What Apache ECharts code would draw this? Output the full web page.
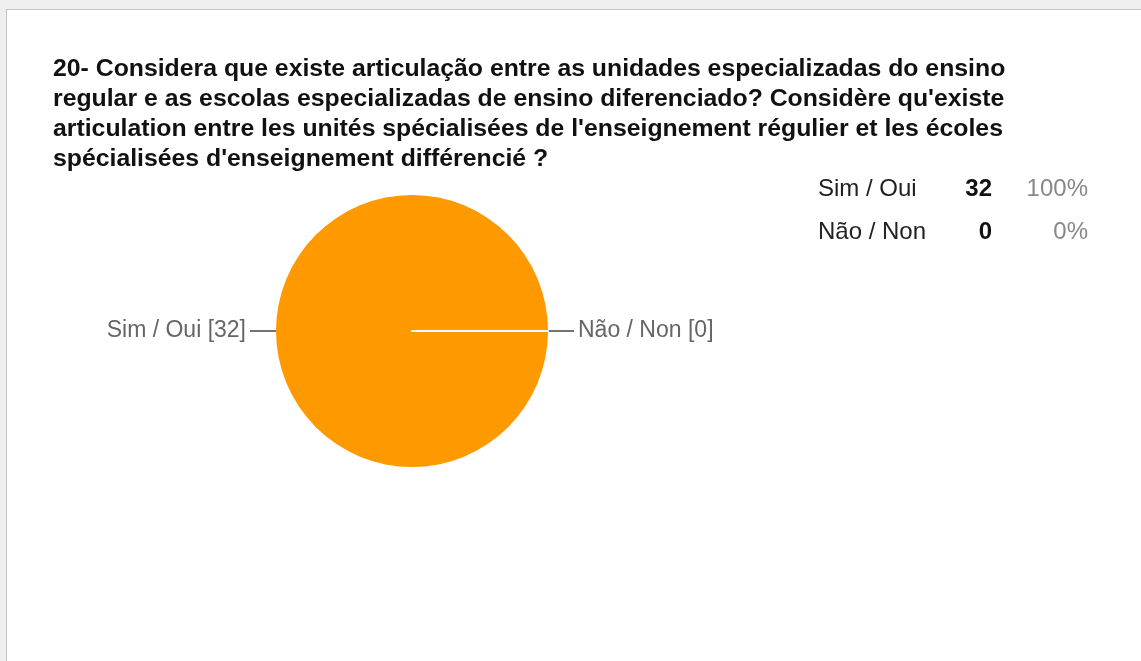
<!DOCTYPE html>
<html>
<head>
<meta charset="utf-8">
<script src="https://cdn.jsdelivr.net/npm/echarts@6/dist/echarts.min.js"></script>
<style>
  html, body { margin: 0; padding: 0; width: 1141px; height: 661px; background: #efefef; overflow: hidden; }
  .panel { position: absolute; left: 6px; top: 9px; right: 0; bottom: 0; background: #fff; border-top: 1px solid #c4c4c4; border-left: 1px solid #c4c4c4; }
  .chart { position: absolute; left: 0; top: 0; width: 1141px; height: 661px; }
</style>
</head>
<body>
<div class="panel"></div>
<div class="chart"></div>
<script>
// 数据
const titleText = '20- Considera que existe articulação entre as unidades especializadas do ensino\n' +
  'regular e as escolas especializadas de ensino diferenciado? Considère qu\'existe\n' +
  'articulation entre les unités spécialisées de l\'enseignement régulier et les écoles\n' +
  'spécialisées d\'enseignement différencié ?';
const categories = ['Sim / Oui', 'Não / Non'];
const counts = [32, 0];
const percents = ['100%', '0%'];

(function () {
  let mychart = echarts.init(document.querySelector('.chart'))
  let pieData = categories.map(function (name, i) {
    let item = { name: name, value: counts[i] }
    // 0 的扇区只画一条白线
    if (counts[i] === 0) {
      item.itemStyle = { color: '#ff9900', borderColor: '#fff', borderWidth: 2 }
    }
    return item
  })
  let option = {
    animation: false,
    title: {
      text: titleText,
      left: 53,
      top: 54,
      padding: 0,
      textStyle: {
        fontFamily: 'Liberation Sans, Arial',
        fontSize: 24.8,
        fontWeight: 'bold',
        color: '#111',
        lineHeight: 30
      }
    },
    legend: {
      orient: 'vertical',
      left: 807,
      top: 172,
      itemGap: 19,
      itemWidth: 0,
      itemHeight: 0,
      icon: 'rect',
      selectedMode: false,
      data: categories,
      formatter: function (name) {
        let i = categories.indexOf(name)
        return '{a|' + name + '}{b|' + counts[i] + '}{c|' + percents[i] + '}'
      },
      textStyle: {
        fontFamily: 'Liberation Sans, Arial',
        rich: {
          a: { width: 140, fontSize: 24, color: '#222', lineHeight: 28 },
          b: { width: 34, align: 'right', fontSize: 24, fontWeight: 'bold', color: '#111', lineHeight: 28 },
          c: { width: 96, align: 'right', fontSize: 24, color: '#888', lineHeight: 28 }
        }
      }
    },
    series: [{
      type: 'pie',
      center: [412, 331],
      radius: 136,
      startAngle: 0,
      clockwise: true,
      color: ['#ff9900', '#ff9900'],
      data: pieData,
      label: {
        show: true,
        formatter: '{b} [{c}]',
        fontFamily: 'Liberation Sans, Arial',
        fontSize: 23,
        color: '#666',
        distanceToLabelLine: 4
      },
      labelLine: {
        show: true,
        length: 12,
        length2: 14,
        lineStyle: { color: '#444', width: 1.5 }
      },
      emphasis: { disabled: true }
    }]
  }
  mychart.setOption(option)
  window.addEventListener('resize', function () {
    mychart.resize()
  })
})();
</script>
</body>
</html>
